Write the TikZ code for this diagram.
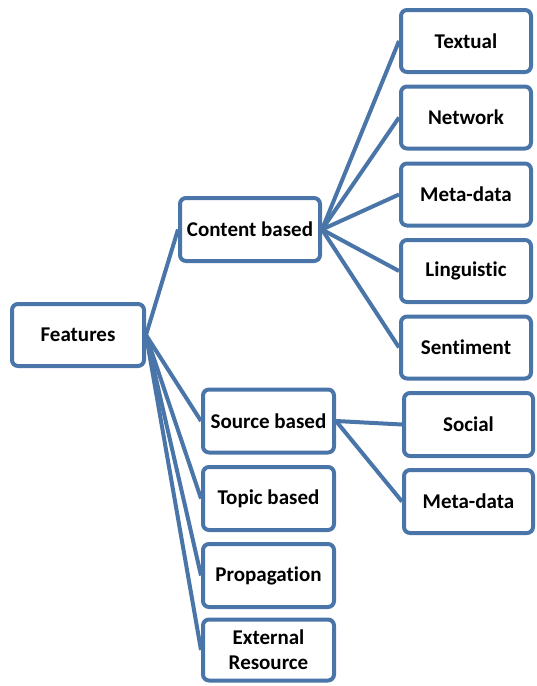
\documentclass[tikz,border=0pt]{standalone}
\usepackage{fontspec}
\setmainfont[Ligatures={NoCommon}]{Carlito}
\definecolor{linkblue}{RGB}{74,117,168}
\tikzset{
  box/.style={draw=linkblue, line width=4pt, rounded corners=6pt, fill=white,
    align=center, font=\fontsize{21}{25}\selectfont\bfseries, inner sep=0pt},
  link/.style={draw=linkblue, line width=4pt}
}
\begin{document}
\begin{tikzpicture}[x=1pt, y=-1pt]
\useasboundingbox (0,0) rectangle (536,686);
% root
\node[box, minimum width=132pt, minimum height=62pt] (feat) at (78,335) {Features};
% second level
\node[box, minimum width=140pt, minimum height=63pt] (cont) at (250,229.5) {Content based};
\node[box, minimum width=131pt, minimum height=63pt] (src)  at (268.5,421) {Source based};
\node[box, minimum width=131pt, minimum height=63pt] (topic) at (268.5,498.5) {Topic based};
\node[box, minimum width=131pt, minimum height=63pt] (prop) at (268.5,575.5) {Propagation};
\node[box, minimum width=131pt, minimum height=61pt] (ext)  at (268.5,650) {External\\Resource};
% content-based children
\node[box, minimum width=130pt, minimum height=62pt] (text) at (466,41) {Textual};
\node[box, minimum width=130pt, minimum height=62pt] (net)  at (466,117.5) {Network};
\node[box, minimum width=130pt, minimum height=62pt] (meta1) at (466,194.5) {Meta-data};
\node[box, minimum width=130pt, minimum height=62pt] (ling) at (466,271) {Linguistic};
\node[box, minimum width=130pt, minimum height=62pt] (sent) at (466,347.5) {Sentiment};
% source-based children
\node[box, minimum width=129pt, minimum height=63pt] (soc)  at (468.5,424.5) {Social};
\node[box, minimum width=129pt, minimum height=63pt] (meta2) at (468.5,501.5) {Meta-data};
% connectors
\foreach \c in {cont,src,topic,prop,ext}
  \draw[link] (feat.east) -- (\c.west);
\foreach \c in {text,net,meta1,ling,sent}
  \draw[link] (cont.east) -- (\c.west);
\foreach \c in {soc,meta2}
  \draw[link] (src.east) -- (\c.west);
\end{tikzpicture}
\end{document}
